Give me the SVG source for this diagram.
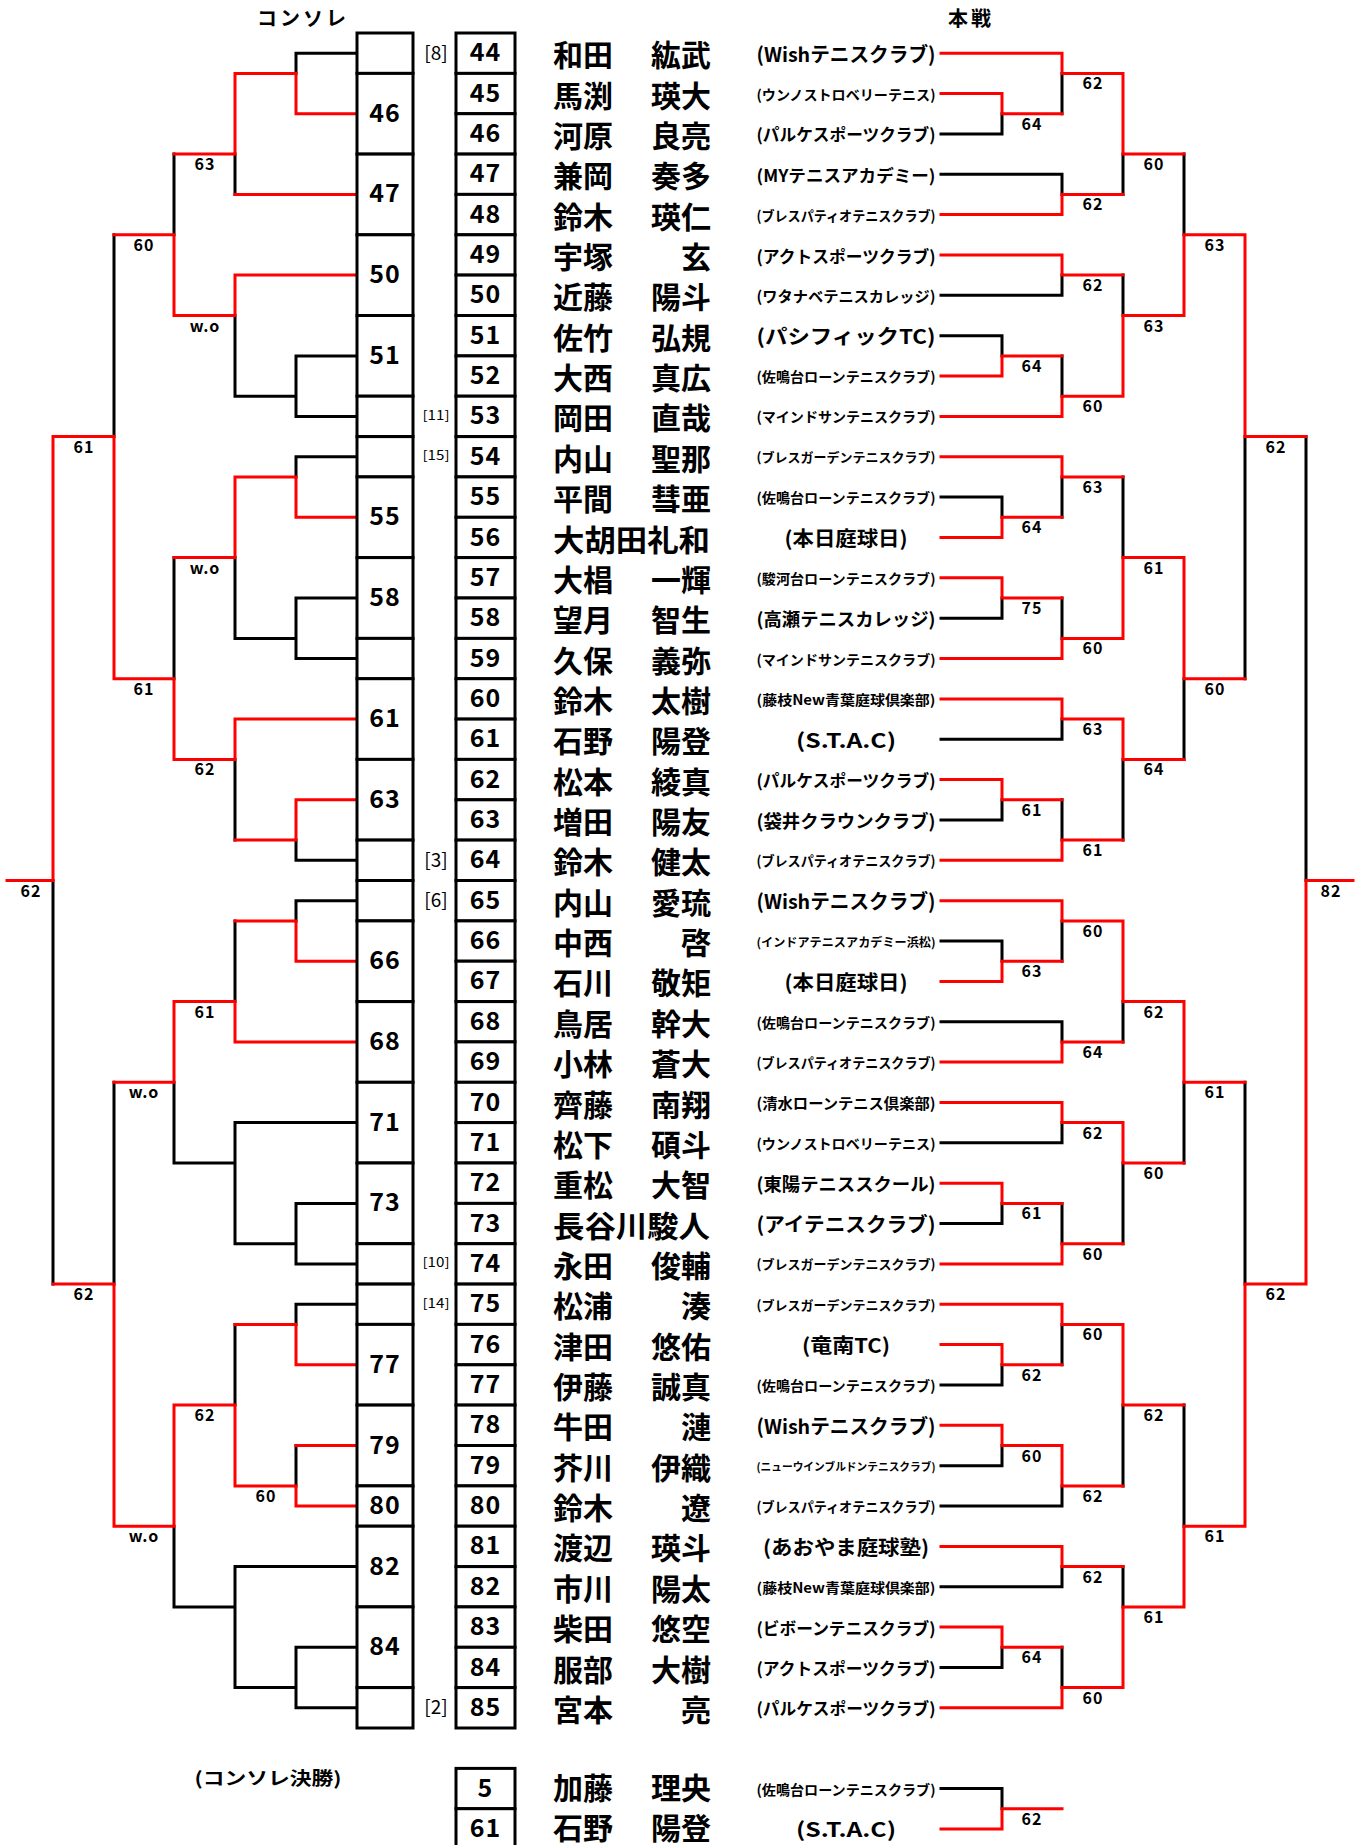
<svg xmlns="http://www.w3.org/2000/svg" width="1364" height="1845" viewBox="0 0 1364 1845">
<style>
.k{fill:none;stroke:#000;stroke-width:3;stroke-linecap:square}
.r{fill:none;stroke:#f00;stroke-width:3;stroke-linecap:square}
.bx{fill:#fff;stroke:#000;stroke-width:3}
text{font-family:"Noto Sans CJK JP","Noto Sans",sans-serif;fill:#000}
.n{font-size:25px;font-weight:bold;text-anchor:middle;dominant-baseline:central;letter-spacing:1px;transform:translateY(-3px)}
.sd{font-size:19px;text-anchor:middle;dominant-baseline:central;transform:translateY(-2px)}
.sd2{font-size:13px;text-anchor:middle;dominant-baseline:central;transform:translateY(-2px)}
.nm{font-size:30px;font-weight:bold;dominant-baseline:central}
.ng{text-anchor:end}
.cl{font-weight:bold;text-anchor:middle;dominant-baseline:central}
.s{font-size:16px;font-weight:bold;text-anchor:middle;letter-spacing:1px}
.h{font-size:20px;font-weight:bold;text-anchor:middle;dominant-baseline:central;letter-spacing:3px}
</style>
<g id="connectors">
<path class="k" d="M941 133.9H1002M941 174.3H1062M941 295.3H1062M941 335.7H1002M941 497.1H1002M941 618.2H1002M941 739.3H1062M941 820H1002M941 941H1002M941 1021.8H1062M941 1142.8H1062M941 1223.5H1002M941 1385H1002M941 1465.7H1002M941 1506H1062M941 1586.8H1062M941 1667.5H1002
M1002 113.7V133.9M1002 335.7V355.9M1002 497.1V517.3M1002 598V618.2M1002 799.8V820M1002 941V961.2M1002 1203.4V1223.5M1002 1364.8V1385M1002 1445.5V1465.7M1002 1647.3V1667.5
M1062 73.4V113.7M1062 174.3V194.4M1062 275.1V295.3M1062 355.9V396.2M1062 476.9V517.3M1062 598V638.4M1062 719.1V739.3M1062 799.8V840.1M1062 920.9V961.2M1062 1021.8V1041.9M1062 1122.6V1142.8M1062 1203.4V1243.7M1062 1324.4V1364.8M1062 1485.9V1506M1062 1566.6V1586.8M1062 1647.3V1687.6
M1123 154.1V194.4M1123 275.1V315.5M1123 476.9V557.6M1123 759.4V840.1M1123 1001.6V1041.9M1123 1163V1243.7M1123 1405.1V1485.9M1123 1566.6V1606.9
M1184 154.1V234.8M1184 678.7V759.4M1184 1082.3V1163M1184 1405.1V1526.2
M1245 436.6V678.7M1245 1082.3V1284.1M1306 436.6V880.5
M941 1788.5H1002V1808.7"/>
<path class="k" d="M357 53.2H296M357 355.9H296M357 416.4H296M357 456.8H296M357 598H296M357 658.5H296M357 860.3H296M357 900.7H296M357 1122.6H235M357 1203.4H296M357 1263.9H296M357 1304.3H296M357 1566.6H235M357 1647.3H296M357 1707.8H296
M296 53.2V73.4M296 355.9V416.4M296 396.2H235M296 456.8V476.9M296 598V658.5M296 638.4H235M296 840.1V860.3M296 900.7V920.9M296 1203.4V1263.9M296 1243.7H235M296 1304.3V1324.4M296 1445.5V1485.9M296 1647.3V1707.8M296 1687.6H235
M235 154.1V194.4M235 315.5V396.2M235 557.6V638.4M235 759.4V840.1M235 920.9V1001.6M235 1122.6V1243.7M235 1163H174M235 1324.4V1405.1M235 1566.6V1687.6M235 1606.9H174
M174 154.1V234.8M174 557.6V678.7M174 1082.3V1163M174 1526.2V1606.9
M114 234.8V436.6M114 1082.3V1284.1M53 880.5V1284.1"/>
<path class="r" d="M941 53.2H1062M941 93.5H1002M941 214.6H1062M941 255H1062M941 376H1002M941 416.4H1062M941 456.8H1062M941 537.5H1002M941 577.8H1002M941 658.5H1062M941 698.9H1062M941 779.6H1002M941 860.3H1062M941 900.7H1062M941 981.4H1002M941 1062.1H1062M941 1102.5H1062M941 1183.2H1002M941 1263.9H1062M941 1304.3H1062M941 1344.6H1002M941 1425.3H1002M941 1546.4H1062M941 1627.1H1002M941 1707.8H1062
M1002 93.5V113.7H1062M1002 376V355.9H1062M1002 537.5V517.3H1062M1002 577.8V598H1062M1002 779.6V799.8H1062M1002 981.4V961.2H1062M1002 1183.2V1203.4H1062M1002 1344.6V1364.8H1062M1002 1425.3V1445.5H1062M1002 1627.1V1647.3H1062
M1062 53.2V73.4H1123M1062 214.6V194.4H1123M1062 255V275.1H1123M1062 416.4V396.2H1123M1062 456.8V476.9H1123M1062 658.5V638.4H1123M1062 698.9V719.1H1123M1062 860.3V840.1H1123M1062 900.7V920.9H1123M1062 1062.1V1041.9H1123M1062 1102.5V1122.6H1123M1062 1263.9V1243.7H1123M1062 1304.3V1324.4H1123M1062 1445.5V1485.9H1123M1062 1546.4V1566.6H1123M1062 1707.8V1687.6H1123
M1123 73.4V154.1H1184M1123 396.2V315.5H1184M1123 638.4V557.6H1184M1123 719.1V759.4H1184M1123 920.9V1001.6H1184M1123 1122.6V1163H1184M1123 1324.4V1405.1H1184M1123 1687.6V1606.9H1184
M1184 315.5V234.8H1245M1184 557.6V678.7H1245M1184 1001.6V1082.3H1245M1184 1606.9V1526.2H1245
M1245 234.8V436.6H1306M1245 1526.2V1284.1H1306M1306 1284.1V880.5H1353
M941 1828.9H1002V1808.7H1062"/>
<path class="r" d="M357 113.7H296M357 194.4H235M357 275.1H235M357 517.3H296M357 719.1H235M357 799.8H296M357 961.2H296M357 1041.9H235M357 1364.8H296M357 1445.5H296M357 1506H296
M296 113.7V73.4H235M296 517.3V476.9H235M296 799.8V840.1H235M296 961.2V920.9H235M296 1364.8V1324.4H235M296 1506V1485.9H235
M235 73.4V154.1H174M235 275.1V315.5H174M235 476.9V557.6H174M235 719.1V759.4H174M235 1041.9V1001.6H174M235 1485.9V1405.1H174
M174 315.5V234.8H114M174 759.4V678.7H114M174 1001.6V1082.3H114M174 1405.1V1526.2H114
M114 678.7V436.6H53M114 1526.2V1284.1H53M53 436.6V880.5H7"/>
<g id="scores">
<text class="s" x="1032" y="129.7">64</text><text class="s" x="1032" y="371.9">64</text><text class="s" x="1032" y="533.3">64</text><text class="s" x="1032" y="614">75</text><text class="s" x="1032" y="815.8">61</text><text class="s" x="1032" y="977.2">63</text><text class="s" x="1032" y="1219.4">61</text><text class="s" x="1032" y="1380.8">62</text><text class="s" x="1032" y="1461.5">60</text><text class="s" x="1032" y="1663.3">64</text>
<text class="s" x="1093" y="89.4">62</text><text class="s" x="1093" y="210.4">62</text><text class="s" x="1093" y="291.1">62</text><text class="s" x="1093" y="412.2">60</text><text class="s" x="1093" y="492.9">63</text><text class="s" x="1093" y="654.4">60</text><text class="s" x="1093" y="735.1">63</text><text class="s" x="1093" y="856.1">61</text><text class="s" x="1093" y="936.9">60</text><text class="s" x="1093" y="1057.9">64</text><text class="s" x="1093" y="1138.6">62</text><text class="s" x="1093" y="1259.7">60</text><text class="s" x="1093" y="1340.4">60</text><text class="s" x="1093" y="1501.9">62</text><text class="s" x="1093" y="1582.6">62</text><text class="s" x="1093" y="1703.6">60</text>
<text class="s" x="1154" y="170.1">60</text><text class="s" x="1154" y="331.5">63</text><text class="s" x="1154" y="573.6">61</text><text class="s" x="1154" y="775.4">64</text><text class="s" x="1154" y="1017.6">62</text><text class="s" x="1154" y="1179">60</text><text class="s" x="1154" y="1421.1">62</text><text class="s" x="1154" y="1622.9">61</text>
<text class="s" x="1215" y="250.8">63</text><text class="s" x="1215" y="694.7">60</text><text class="s" x="1215" y="1098.3">61</text><text class="s" x="1215" y="1542.2">61</text>
<text class="s" x="1276" y="452.6">62</text><text class="s" x="1276" y="1300.1">62</text>
<text class="s" x="1331" y="896.5">82</text>
<text class="s" x="1032" y="1824.7">62</text>
<text class="s" x="205" y="170.1">63</text><text class="s" x="205" y="331.5">w.o</text><text class="s" x="205" y="573.6">w.o</text><text class="s" x="205" y="775.4">62</text><text class="s" x="205" y="1017.6">61</text><text class="s" x="205" y="1421.1">62</text>
<text class="s" x="144" y="250.8">60</text><text class="s" x="144" y="694.7">61</text><text class="s" x="144" y="1098.3">w.o</text><text class="s" x="144" y="1542.2">w.o</text>
<text class="s" x="84" y="452.6">61</text><text class="s" x="84" y="1300.1">62</text>
<text class="s" x="31" y="896.5">62</text>
<text class="s" x="266" y="1501.9">60</text>
</g>
</g>
<g id="headers">
<text class="h" x="303" y="17">コンソレ</text>
<text class="h" x="971" y="17">本戦</text>
<text class="cl" x="268" y="1777" font-size="18" textLength="147" lengthAdjust="spacingAndGlyphs">(コンソレ決勝)</text>
</g>
<g id="consolation">
<g id="k0"><rect class="bx" x="357" y="33" width="56" height="40.4"/></g>
<g id="k46"><rect class="bx" x="357" y="73.4" width="56" height="80.7"/><text class="n" x="385" y="113.7">46</text></g>
<g id="k47"><rect class="bx" x="357" y="154.1" width="56" height="80.7"/><text class="n" x="385" y="194.4">47</text></g>
<g id="k50"><rect class="bx" x="357" y="234.8" width="56" height="80.7"/><text class="n" x="385" y="275.1">50</text></g>
<g id="k51"><rect class="bx" x="357" y="315.5" width="56" height="80.7"/><text class="n" x="385" y="355.9">51</text></g>
<g id="k53"><rect class="bx" x="357" y="396.2" width="56" height="40.4"/></g>
<g id="k54"><rect class="bx" x="357" y="436.6" width="56" height="40.3"/></g>
<g id="k55"><rect class="bx" x="357" y="476.9" width="56" height="80.7"/><text class="n" x="385" y="517.3">55</text></g>
<g id="k58"><rect class="bx" x="357" y="557.6" width="56" height="80.8"/><text class="n" x="385" y="598">58</text></g>
<g id="k59"><rect class="bx" x="357" y="638.4" width="56" height="40.3"/></g>
<g id="k61"><rect class="bx" x="357" y="678.7" width="56" height="80.7"/><text class="n" x="385" y="719.1" font-size="30">61</text></g>
<g id="k63"><rect class="bx" x="357" y="759.4" width="56" height="80.7"/><text class="n" x="385" y="799.8">63</text></g>
<g id="k64"><rect class="bx" x="357" y="840.1" width="56" height="40.4"/></g>
<g id="k65"><rect class="bx" x="357" y="880.5" width="56" height="40.4"/></g>
<g id="k66"><rect class="bx" x="357" y="920.9" width="56" height="80.7"/><text class="n" x="385" y="961.2">66</text></g>
<g id="k68"><rect class="bx" x="357" y="1001.6" width="56" height="80.7"/><text class="n" x="385" y="1041.9">68</text></g>
<g id="k71"><rect class="bx" x="357" y="1082.3" width="56" height="80.7"/><text class="n" x="385" y="1122.6">71</text></g>
<g id="k73"><rect class="bx" x="357" y="1163" width="56" height="80.7"/><text class="n" x="385" y="1203.4">73</text></g>
<g id="k74"><rect class="bx" x="357" y="1243.7" width="56" height="40.4"/></g>
<g id="k75"><rect class="bx" x="357" y="1284.1" width="56" height="40.3"/></g>
<g id="k77"><rect class="bx" x="357" y="1324.4" width="56" height="80.7"/><text class="n" x="385" y="1364.8">77</text></g>
<g id="k79"><rect class="bx" x="357" y="1405.1" width="56" height="80.8"/><text class="n" x="385" y="1445.5">79</text></g>
<g id="k80"><rect class="bx" x="357" y="1485.9" width="56" height="40.3"/><text class="n" x="385" y="1506">80</text></g>
<g id="k82"><rect class="bx" x="357" y="1526.2" width="56" height="80.7"/><text class="n" x="385" y="1566.6">82</text></g>
<g id="k84"><rect class="bx" x="357" y="1606.9" width="56" height="80.7"/><text class="n" x="385" y="1647.3">84</text></g>
<g id="k85"><rect class="bx" x="357" y="1687.6" width="56" height="40.4"/></g>
</g>
<g id="players">
<g id="p44"><rect class="bx" x="456" y="33" width="59" height="40.4"/><text class="n" x="485.5" y="53.2">44</text><text class="sd" x="436" y="53.2">[8]</text><text class="nm" x="553" y="53.2">和田</text><text class="nm ng" x="711" y="53.2">紘武</text><text class="cl" x="846" y="53.2" font-size="20" textLength="179" lengthAdjust="spacingAndGlyphs">(Wishテニスクラブ)</text></g>
<g id="p45"><rect class="bx" x="456" y="73.4" width="59" height="40.3"/><text class="n" x="485.5" y="93.5">45</text><text class="nm" x="553" y="93.5">馬渕</text><text class="nm ng" x="711" y="93.5">瑛大</text><text class="cl" x="846" y="93.5" font-size="14" textLength="179" lengthAdjust="spacingAndGlyphs">(ウンノストロベリーテニス)</text></g>
<g id="p46"><rect class="bx" x="456" y="113.7" width="59" height="40.4"/><text class="n" x="485.5" y="133.9">46</text><text class="nm" x="553" y="133.9">河原</text><text class="nm ng" x="711" y="133.9">良亮</text><text class="cl" x="846" y="133.9" font-size="17" textLength="179" lengthAdjust="spacingAndGlyphs">(パルケスポーツクラブ)</text></g>
<g id="p47"><rect class="bx" x="456" y="154.1" width="59" height="40.3"/><text class="n" x="485.5" y="174.3">47</text><text class="nm" x="553" y="174.3">兼岡</text><text class="nm ng" x="711" y="174.3">奏多</text><text class="cl" x="846" y="174.3" font-size="17" textLength="179" lengthAdjust="spacingAndGlyphs">(MYテニスアカデミー)</text></g>
<g id="p48"><rect class="bx" x="456" y="194.4" width="59" height="40.4"/><text class="n" x="485.5" y="214.6">48</text><text class="nm" x="553" y="214.6">鈴木</text><text class="nm ng" x="711" y="214.6">瑛仁</text><text class="cl" x="846" y="214.6" font-size="14" textLength="179" lengthAdjust="spacingAndGlyphs">(ブレスパティオテニスクラブ)</text></g>
<g id="p49"><rect class="bx" x="456" y="234.8" width="59" height="40.3"/><text class="n" x="485.5" y="255">49</text><text class="nm" x="553" y="255">宇塚</text><text class="nm ng" x="711" y="255">玄</text><text class="cl" x="846" y="255" font-size="17" textLength="179" lengthAdjust="spacingAndGlyphs">(アクトスポーツクラブ)</text></g>
<g id="p50"><rect class="bx" x="456" y="275.1" width="59" height="40.4"/><text class="n" x="485.5" y="295.3">50</text><text class="nm" x="553" y="295.3">近藤</text><text class="nm ng" x="711" y="295.3">陽斗</text><text class="cl" x="846" y="295.3" font-size="15" textLength="179" lengthAdjust="spacingAndGlyphs">(ワタナベテニスカレッジ)</text></g>
<g id="p51"><rect class="bx" x="456" y="315.5" width="59" height="40.4"/><text class="n" x="485.5" y="335.7">51</text><text class="nm" x="553" y="335.7">佐竹</text><text class="nm ng" x="711" y="335.7">弘規</text><text class="cl" x="846" y="335.7" font-size="20" textLength="179" lengthAdjust="spacingAndGlyphs">(パシフィックTC)</text></g>
<g id="p52"><rect class="bx" x="456" y="355.9" width="59" height="40.3"/><text class="n" x="485.5" y="376">52</text><text class="nm" x="553" y="376">大西</text><text class="nm ng" x="711" y="376">真広</text><text class="cl" x="846" y="376" font-size="14" textLength="179" lengthAdjust="spacingAndGlyphs">(佐鳴台ローンテニスクラブ)</text></g>
<g id="p53"><rect class="bx" x="456" y="396.2" width="59" height="40.4"/><text class="n" x="485.5" y="416.4">53</text><text class="sd2" x="436" y="416.4" textLength="27" lengthAdjust="spacingAndGlyphs">[11]</text><text class="nm" x="553" y="416.4">岡田</text><text class="nm ng" x="711" y="416.4">直哉</text><text class="cl" x="846" y="416.4" font-size="14" textLength="179" lengthAdjust="spacingAndGlyphs">(マインドサンテニスクラブ)</text></g>
<g id="p54"><rect class="bx" x="456" y="436.6" width="59" height="40.3"/><text class="n" x="485.5" y="456.8">54</text><text class="sd2" x="436" y="456.8" textLength="27" lengthAdjust="spacingAndGlyphs">[15]</text><text class="nm" x="553" y="456.8">内山</text><text class="nm ng" x="711" y="456.8">聖那</text><text class="cl" x="846" y="456.8" font-size="13" textLength="179" lengthAdjust="spacingAndGlyphs">(ブレスガーデンテニスクラブ)</text></g>
<g id="p55"><rect class="bx" x="456" y="476.9" width="59" height="40.4"/><text class="n" x="485.5" y="497.1">55</text><text class="nm" x="553" y="497.1">平間</text><text class="nm ng" x="711" y="497.1">彗亜</text><text class="cl" x="846" y="497.1" font-size="14" textLength="179" lengthAdjust="spacingAndGlyphs">(佐鳴台ローンテニスクラブ)</text></g>
<g id="p56"><rect class="bx" x="456" y="517.3" width="59" height="40.3"/><text class="n" x="485.5" y="537.5">56</text><text class="nm" x="553" y="537.5" textLength="157" lengthAdjust="spacingAndGlyphs">大胡田礼和</text><text class="cl" x="846" y="537.5" font-size="20" textLength="123" lengthAdjust="spacingAndGlyphs">(本日庭球日)</text></g>
<g id="p57"><rect class="bx" x="456" y="557.6" width="59" height="40.4"/><text class="n" x="485.5" y="577.8">57</text><text class="nm" x="553" y="577.8">大椙</text><text class="nm ng" x="711" y="577.8">一輝</text><text class="cl" x="846" y="577.8" font-size="14" textLength="179" lengthAdjust="spacingAndGlyphs">(駿河台ローンテニスクラブ)</text></g>
<g id="p58"><rect class="bx" x="456" y="598" width="59" height="40.4"/><text class="n" x="485.5" y="618.2">58</text><text class="nm" x="553" y="618.2">望月</text><text class="nm ng" x="711" y="618.2">智生</text><text class="cl" x="846" y="618.2" font-size="18" textLength="179" lengthAdjust="spacingAndGlyphs">(高瀬テニスカレッジ)</text></g>
<g id="p59"><rect class="bx" x="456" y="638.4" width="59" height="40.3"/><text class="n" x="485.5" y="658.5">59</text><text class="nm" x="553" y="658.5">久保</text><text class="nm ng" x="711" y="658.5">義弥</text><text class="cl" x="846" y="658.5" font-size="14" textLength="179" lengthAdjust="spacingAndGlyphs">(マインドサンテニスクラブ)</text></g>
<g id="p60"><rect class="bx" x="456" y="678.7" width="59" height="40.4"/><text class="n" x="485.5" y="698.9">60</text><text class="nm" x="553" y="698.9">鈴木</text><text class="nm ng" x="711" y="698.9">太樹</text><text class="cl" x="846" y="698.9" font-size="14" textLength="179" lengthAdjust="spacingAndGlyphs">(藤枝New青葉庭球倶楽部)</text></g>
<g id="p61"><rect class="bx" x="456" y="719.1" width="59" height="40.3"/><text class="n" x="485.5" y="739.3">61</text><text class="nm" x="553" y="739.3">石野</text><text class="nm ng" x="711" y="739.3">陽登</text><text class="cl" x="846" y="739.3" font-size="20" textLength="100" lengthAdjust="spacingAndGlyphs">(S.T.A.C)</text></g>
<g id="p62"><rect class="bx" x="456" y="759.4" width="59" height="40.4"/><text class="n" x="485.5" y="779.6">62</text><text class="nm" x="553" y="779.6">松本</text><text class="nm ng" x="711" y="779.6">綾真</text><text class="cl" x="846" y="779.6" font-size="17" textLength="179" lengthAdjust="spacingAndGlyphs">(パルケスポーツクラブ)</text></g>
<g id="p63"><rect class="bx" x="456" y="799.8" width="59" height="40.3"/><text class="n" x="485.5" y="820">63</text><text class="nm" x="553" y="820">増田</text><text class="nm ng" x="711" y="820">陽友</text><text class="cl" x="846" y="820" font-size="18" textLength="179" lengthAdjust="spacingAndGlyphs">(袋井クラウンクラブ)</text></g>
<g id="p64"><rect class="bx" x="456" y="840.1" width="59" height="40.4"/><text class="n" x="485.5" y="860.3">64</text><text class="sd" x="436" y="860.3">[3]</text><text class="nm" x="553" y="860.3">鈴木</text><text class="nm ng" x="711" y="860.3">健太</text><text class="cl" x="846" y="860.3" font-size="14" textLength="179" lengthAdjust="spacingAndGlyphs">(ブレスパティオテニスクラブ)</text></g>
<g id="p65"><rect class="bx" x="456" y="880.5" width="59" height="40.4"/><text class="n" x="485.5" y="900.7">65</text><text class="sd" x="436" y="900.7">[6]</text><text class="nm" x="553" y="900.7">内山</text><text class="nm ng" x="711" y="900.7">愛琉</text><text class="cl" x="846" y="900.7" font-size="20" textLength="179" lengthAdjust="spacingAndGlyphs">(Wishテニスクラブ)</text></g>
<g id="p66"><rect class="bx" x="456" y="920.9" width="59" height="40.3"/><text class="n" x="485.5" y="941">66</text><text class="nm" x="553" y="941">中西</text><text class="nm ng" x="711" y="941">啓</text><text class="cl" x="846" y="941" font-size="12" textLength="179" lengthAdjust="spacingAndGlyphs">(インドアテニスアカデミー浜松)</text></g>
<g id="p67"><rect class="bx" x="456" y="961.2" width="59" height="40.4"/><text class="n" x="485.5" y="981.4">67</text><text class="nm" x="553" y="981.4">石川</text><text class="nm ng" x="711" y="981.4">敬矩</text><text class="cl" x="846" y="981.4" font-size="20" textLength="123" lengthAdjust="spacingAndGlyphs">(本日庭球日)</text></g>
<g id="p68"><rect class="bx" x="456" y="1001.6" width="59" height="40.3"/><text class="n" x="485.5" y="1021.8">68</text><text class="nm" x="553" y="1021.8">鳥居</text><text class="nm ng" x="711" y="1021.8">幹大</text><text class="cl" x="846" y="1021.8" font-size="14" textLength="179" lengthAdjust="spacingAndGlyphs">(佐鳴台ローンテニスクラブ)</text></g>
<g id="p69"><rect class="bx" x="456" y="1041.9" width="59" height="40.4"/><text class="n" x="485.5" y="1062.1">69</text><text class="nm" x="553" y="1062.1">小林</text><text class="nm ng" x="711" y="1062.1">蒼大</text><text class="cl" x="846" y="1062.1" font-size="14" textLength="179" lengthAdjust="spacingAndGlyphs">(ブレスパティオテニスクラブ)</text></g>
<g id="p70"><rect class="bx" x="456" y="1082.3" width="59" height="40.3"/><text class="n" x="485.5" y="1102.5">70</text><text class="nm" x="553" y="1102.5">齊藤</text><text class="nm ng" x="711" y="1102.5">南翔</text><text class="cl" x="846" y="1102.5" font-size="15" textLength="179" lengthAdjust="spacingAndGlyphs">(清水ローンテニス倶楽部)</text></g>
<g id="p71"><rect class="bx" x="456" y="1122.6" width="59" height="40.4"/><text class="n" x="485.5" y="1142.8">71</text><text class="nm" x="553" y="1142.8">松下</text><text class="nm ng" x="711" y="1142.8">碩斗</text><text class="cl" x="846" y="1142.8" font-size="14" textLength="179" lengthAdjust="spacingAndGlyphs">(ウンノストロベリーテニス)</text></g>
<g id="p72"><rect class="bx" x="456" y="1163" width="59" height="40.4"/><text class="n" x="485.5" y="1183.2">72</text><text class="nm" x="553" y="1183.2">重松</text><text class="nm ng" x="711" y="1183.2">大智</text><text class="cl" x="846" y="1183.2" font-size="18" textLength="179" lengthAdjust="spacingAndGlyphs">(東陽テニススクール)</text></g>
<g id="p73"><rect class="bx" x="456" y="1203.4" width="59" height="40.3"/><text class="n" x="485.5" y="1223.5">73</text><text class="nm" x="553" y="1223.5" textLength="157" lengthAdjust="spacingAndGlyphs">長谷川駿人</text><text class="cl" x="846" y="1223.5" font-size="20" textLength="179" lengthAdjust="spacingAndGlyphs">(アイテニスクラブ)</text></g>
<g id="p74"><rect class="bx" x="456" y="1243.7" width="59" height="40.4"/><text class="n" x="485.5" y="1263.9">74</text><text class="sd2" x="436" y="1263.9" textLength="27" lengthAdjust="spacingAndGlyphs">[10]</text><text class="nm" x="553" y="1263.9">永田</text><text class="nm ng" x="711" y="1263.9">俊輔</text><text class="cl" x="846" y="1263.9" font-size="13" textLength="179" lengthAdjust="spacingAndGlyphs">(ブレスガーデンテニスクラブ)</text></g>
<g id="p75"><rect class="bx" x="456" y="1284.1" width="59" height="40.3"/><text class="n" x="485.5" y="1304.3">75</text><text class="sd2" x="436" y="1304.3" textLength="27" lengthAdjust="spacingAndGlyphs">[14]</text><text class="nm" x="553" y="1304.3">松浦</text><text class="nm ng" x="711" y="1304.3">湊</text><text class="cl" x="846" y="1304.3" font-size="13" textLength="179" lengthAdjust="spacingAndGlyphs">(ブレスガーデンテニスクラブ)</text></g>
<g id="p76"><rect class="bx" x="456" y="1324.4" width="59" height="40.4"/><text class="n" x="485.5" y="1344.6">76</text><text class="nm" x="553" y="1344.6">津田</text><text class="nm ng" x="711" y="1344.6">悠佑</text><text class="cl" x="846" y="1344.6" font-size="20" textLength="88" lengthAdjust="spacingAndGlyphs">(竜南TC)</text></g>
<g id="p77"><rect class="bx" x="456" y="1364.8" width="59" height="40.3"/><text class="n" x="485.5" y="1385">77</text><text class="nm" x="553" y="1385">伊藤</text><text class="nm ng" x="711" y="1385">誠真</text><text class="cl" x="846" y="1385" font-size="14" textLength="179" lengthAdjust="spacingAndGlyphs">(佐鳴台ローンテニスクラブ)</text></g>
<g id="p78"><rect class="bx" x="456" y="1405.1" width="59" height="40.4"/><text class="n" x="485.5" y="1425.3">78</text><text class="nm" x="553" y="1425.3">牛田</text><text class="nm ng" x="711" y="1425.3">漣</text><text class="cl" x="846" y="1425.3" font-size="20" textLength="179" lengthAdjust="spacingAndGlyphs">(Wishテニスクラブ)</text></g>
<g id="p79"><rect class="bx" x="456" y="1445.5" width="59" height="40.4"/><text class="n" x="485.5" y="1465.7">79</text><text class="nm" x="553" y="1465.7">芥川</text><text class="nm ng" x="711" y="1465.7">伊織</text><text class="cl" x="846" y="1465.7" font-size="11" textLength="179" lengthAdjust="spacingAndGlyphs">(ニューウインブルドンテニスクラブ)</text></g>
<g id="p80"><rect class="bx" x="456" y="1485.9" width="59" height="40.3"/><text class="n" x="485.5" y="1506">80</text><text class="nm" x="553" y="1506">鈴木</text><text class="nm ng" x="711" y="1506">遼</text><text class="cl" x="846" y="1506" font-size="14" textLength="179" lengthAdjust="spacingAndGlyphs">(ブレスパティオテニスクラブ)</text></g>
<g id="p81"><rect class="bx" x="456" y="1526.2" width="59" height="40.4"/><text class="n" x="485.5" y="1546.4">81</text><text class="nm" x="553" y="1546.4">渡辺</text><text class="nm ng" x="711" y="1546.4">瑛斗</text><text class="cl" x="846" y="1546.4" font-size="20" textLength="166" lengthAdjust="spacingAndGlyphs">(あおやま庭球塾)</text></g>
<g id="p82"><rect class="bx" x="456" y="1566.6" width="59" height="40.3"/><text class="n" x="485.5" y="1586.8">82</text><text class="nm" x="553" y="1586.8">市川</text><text class="nm ng" x="711" y="1586.8">陽太</text><text class="cl" x="846" y="1586.8" font-size="14" textLength="179" lengthAdjust="spacingAndGlyphs">(藤枝New青葉庭球倶楽部)</text></g>
<g id="p83"><rect class="bx" x="456" y="1606.9" width="59" height="40.4"/><text class="n" x="485.5" y="1627.1">83</text><text class="nm" x="553" y="1627.1">柴田</text><text class="nm ng" x="711" y="1627.1">悠空</text><text class="cl" x="846" y="1627.1" font-size="17" textLength="179" lengthAdjust="spacingAndGlyphs">(ビボーンテニスクラブ)</text></g>
<g id="p84"><rect class="bx" x="456" y="1647.3" width="59" height="40.3"/><text class="n" x="485.5" y="1667.5">84</text><text class="nm" x="553" y="1667.5">服部</text><text class="nm ng" x="711" y="1667.5">大樹</text><text class="cl" x="846" y="1667.5" font-size="17" textLength="179" lengthAdjust="spacingAndGlyphs">(アクトスポーツクラブ)</text></g>
<g id="p85"><rect class="bx" x="456" y="1687.6" width="59" height="40.4"/><text class="n" x="485.5" y="1707.8">85</text><text class="sd" x="436" y="1707.8">[2]</text><text class="nm" x="553" y="1707.8">宮本</text><text class="nm ng" x="711" y="1707.8">亮</text><text class="cl" x="846" y="1707.8" font-size="17" textLength="179" lengthAdjust="spacingAndGlyphs">(パルケスポーツクラブ)</text></g>
<g id="f5"><rect class="bx" x="456" y="1768.4" width="59" height="40.3"/><text class="n" x="485.5" y="1788.5">5</text><text class="nm" x="553" y="1786" font-size="26">加藤</text><text class="nm ng" x="711" y="1786" font-size="26">理央</text><text class="cl" x="846" y="1788.5" font-size="14" textLength="179" lengthAdjust="spacingAndGlyphs">(佐鳴台ローンテニスクラブ)</text></g>
<g id="f61"><rect class="bx" x="456" y="1808.7" width="59" height="40.4"/><text class="n" x="485.5" y="1828.9">61</text><text class="nm" x="553" y="1826.4" font-size="25">石野</text><text class="nm ng" x="711" y="1826.4" font-size="25">陽登</text><text class="cl" x="846" y="1828" font-size="20" textLength="100" lengthAdjust="spacingAndGlyphs">(S.T.A.C)</text></g>
</g>
</svg>
